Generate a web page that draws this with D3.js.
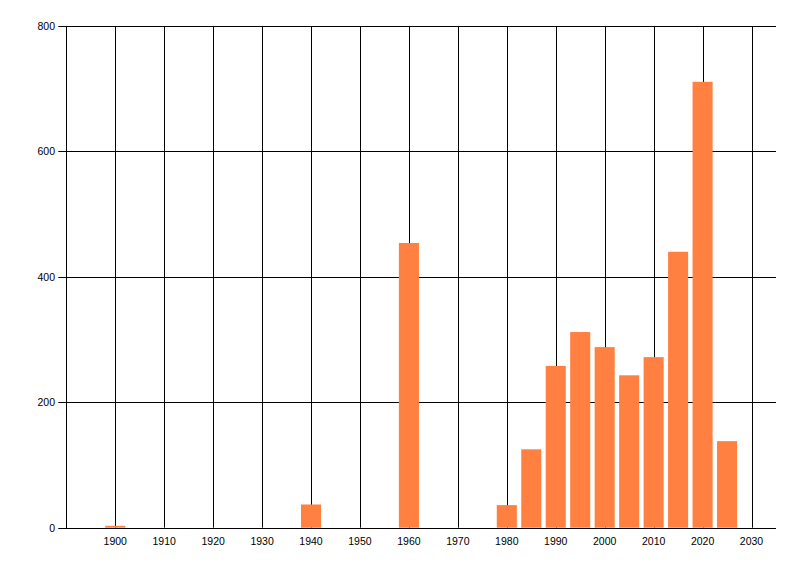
<!DOCTYPE html>
<html>
<head>
<meta charset="utf-8">
<script src="https://cdn.jsdelivr.net/npm/d3@7"></script>
<style>
  body { margin: 0; background: #fff; }
  text { font-family: "Liberation Sans", Arial, sans-serif; font-size: 10.5px; fill: #000; }
</style>
</head>
<body>
<div class="chart"></div>
<script>
// values
let years = [1900, 1940, 1960, 1980, 1985, 1990, 1995, 2000, 2005, 2010, 2015, 2020, 2025];
let counts = [3, 37, 454, 36, 125, 258, 312, 288, 243, 272, 440, 711, 138];
let xTicks = [1900, 1910, 1920, 1930, 1940, 1950, 1960, 1970, 1980, 1990, 2000, 2010, 2020, 2030];
let yTicks = [0, 200, 400, 600, 800];

let svgWidth = 800, svgHeight = 576;
let plot = { left: 66.3, right: 776, top: 26, bottom: 527.7 };

let svg = d3.select(".chart")
  .append("svg")
  .attr("width", svgWidth)
  .attr("height", svgHeight);

let x = d3.scaleLinear().domain([1890, 2035]).range([plot.left, plot.right]);
let y = d3.scaleLinear().domain([0, 800]).range([plot.bottom, plot.top]);
let barYears = 4.1;

// vertical grid
svg.append("g").selectAll("line")
  .data(xTicks)
  .enter().append("line")
  .attr("x1", d => Math.round(x(d)) + 0.5)
  .attr("x2", d => Math.round(x(d)) + 0.5)
  .attr("y1", plot.top)
  .attr("y2", plot.bottom)
  .attr("stroke", "#000");

// horizontal grid + ticks
svg.append("g").selectAll("line")
  .data(yTicks)
  .enter().append("line")
  .attr("x1", plot.left - 8)
  .attr("x2", plot.right)
  .attr("y1", d => Math.round(y(d)) + 0.5)
  .attr("y2", d => Math.round(y(d)) + 0.5)
  .attr("stroke", "#000");

// bars
svg.append("g").selectAll("rect")
  .data(years)
  .enter().append("rect")
  .attr("x", d => x(d - barYears / 2))
  .attr("width", d => x(d + barYears / 2) - x(d - barYears / 2))
  .attr("y", (d, i) => y(counts[i]))
  .attr("height", (d, i) => y(0) - y(counts[i]))
  .attr("fill", "#FF8040");

// axis lines
svg.append("line")
  .attr("x1", Math.round(plot.left) + 0.5).attr("x2", Math.round(plot.left) + 0.5)
  .attr("y1", plot.top).attr("y2", plot.bottom + 1)
  .attr("stroke", "#000");
svg.append("line")
  .attr("x1", plot.left).attr("x2", plot.right)
  .attr("y1", Math.round(y(0)) + 0.5).attr("y2", Math.round(y(0)) + 0.5)
  .attr("stroke", "#000");

// labels
svg.append("g").selectAll("text")
  .data(yTicks)
  .enter().append("text")
  .attr("x", 55)
  .attr("y", d => y(d) + 4)
  .attr("text-anchor", "end")
  .text(d => d);

svg.append("g").selectAll("text")
  .data(xTicks)
  .enter().append("text")
  .attr("x", d => x(d))
  .attr("y", 545)
  .attr("text-anchor", "middle")
  .text(d => d);
</script>
</body>
</html>
